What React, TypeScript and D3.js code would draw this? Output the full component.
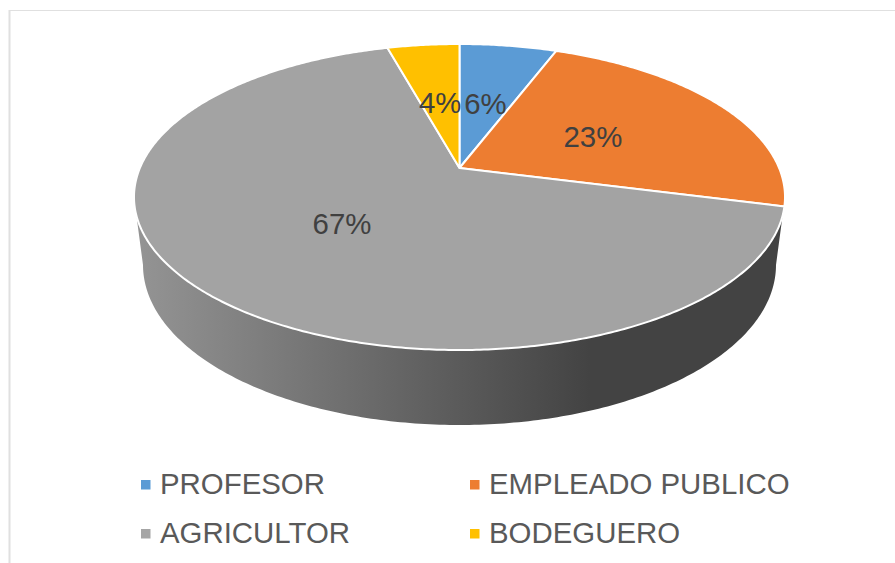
import React from "react";
import * as d3 from "d3";

const categories = ["PROFESOR", "EMPLEADO PUBLICO", "AGRICULTOR", "BODEGUERO"];
const values = [5.8, 23.2, 66.7, 4.3];
const colors = ["#5B9BD5", "#ED7D31", "#A3A3A3", "#FFC000"];
const legendColors = ["#5B9BD5", "#ED7D31", "#A5A5A5", "#FFC000"];

const W = 895;
const H = 563;
const font = "'Liberation Sans', Arial, sans-serif";

// perspective projection of a unit disc onto the page
const apexX = 459.5;
const apexY = 168;
const scaleX = 319.6;
const scaleV = 147.5;
const persp = 0.1896;

function project(r: number, angle: number): [number, number] {
  const x = r * Math.sin(angle);
  const v = r * Math.cos(angle);
  const w = 1 + persp * v;
  return [apexX + (scaleX * x) / w, apexY - (scaleV * v) / w];
}

const lineGen = d3.line<[number, number]>();

function slicePath(a0: number, a1: number): string {
  const n = Math.max(8, Math.ceil((a1 - a0) / 0.01));
  const rim = d3.range(n + 1).map((i) => project(1, a0 + ((a1 - a0) * i) / n));
  return lineGen([[apexX, apexY], ...rim])! + "Z";
}

// lower rim of the side wall
const lowCx = 459.5;
const lowCy = 265;
const lowRx = 316.5;
const lowRy = 160;

function sidePath(): string {
  const n = 200;
  const low = d3.range(n + 1).map((i): [number, number] => {
    const t = (Math.PI * i) / n;
    return [lowCx + lowRx * Math.cos(t), lowCy + lowRy * Math.sin(t)];
  });
  const pts: [number, number][] = [[784, 205], ...low, [135, 205]];
  return lineGen(pts)! + "Z";
}

export default function App() {
  const pie = d3
    .pie<number>()
    .sort(null)
    .startAngle(0)
    .endAngle(2 * Math.PI);
  const arcs = pie(values);

  const legendX = d3.scaleOrdinal<number, number>().domain([0, 1]).range([141, 470]);
  const legendY = d3.scaleOrdinal<number, number>().domain([0, 1]).range([494, 543]);

  return (
    <svg
      width={W}
      height={H}
      viewBox={`0 0 ${W} ${H}`}
      style={{ position: "fixed", left: 0, top: 0, background: "#fff" }}
    >
      <defs>
        <linearGradient id="wall" gradientUnits="userSpaceOnUse" x1={137} y1={0} x2={590} y2={0}>
          <stop offset="0" stopColor="#949494" />
          <stop offset="1" stopColor="#434343" />
        </linearGradient>
      </defs>

      <line x1={9.5} y1={10} x2={9.5} y2={H} stroke="#e0e0e0" strokeWidth={2} />
      <line x1={9} y1={10.5} x2={W} y2={10.5} stroke="#e0e0e0" strokeWidth={1} />

      <path d={sidePath()} fill="url(#wall)" />

      {arcs.map((a, i) => (
        <path
          key={categories[i]}
          d={slicePath(a.startAngle, a.endAngle)}
          fill={colors[i]}
          stroke="#fff"
          strokeWidth={2}
          strokeLinejoin="round"
        />
      ))}

      {arcs.map((a, i) => {
        const [x, y] = project(0.49, (a.startAngle + a.endAngle) / 2);
        return (
          <text
            key={categories[i]}
            x={x}
            y={y + 11}
            textAnchor="middle"
            fontFamily={font}
            fontSize={29.4}
            fill="#404040"
          >
            {d3.format(".0f")(values[i])}%
          </text>
        );
      })}

      {categories.map((c, i) => {
        const col = i % 2;
        const row = Math.floor(i / 2);
        const x = legendX(col);
        const y = legendY(row);
        return (
          <g key={c}>
            <rect x={x} y={y - 14} width={9.5} height={9.5} fill={legendColors[i]} />
            <text x={x + 19} y={y} fontFamily={font} fontSize={29.4} fill="#595959">
              {c}
            </text>
          </g>
        );
      })}
    </svg>
  );
}
